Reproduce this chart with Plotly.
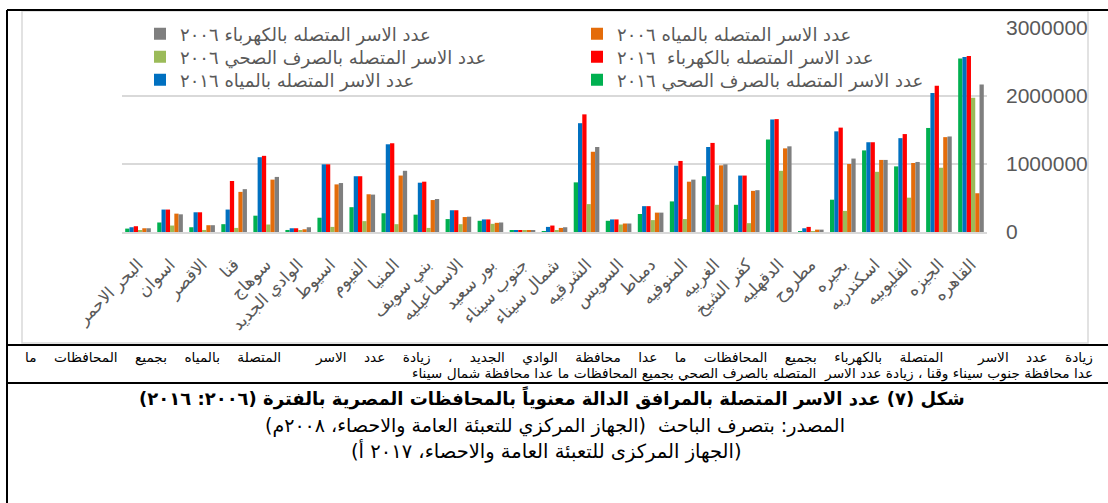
import plotly.graph_objects as go

governorates = [
    "البحر الاحمر", "اسوان", "الاقصر", "قنا", "سوهاج", "الوادي الجديد", "اسيوط",
    "الفيوم", "المنيا", "بني سويف", "الاسماعيليه", "بور سعيد", "جنوب سيناء",
    "شمال سيناء", "الشرقيه", "السويس", "دمياط", "المنوفيه", "الغربيه",
    "كفر الشيخ", "الدقهليه", "مطروح", "بحيره", "اسكندريه", "القليوبيه",
    "الجيزه", "القاهره",
]

sewer_2016 = [50000, 140000, 70000, 115000, 240000, 30000, 210000, 365000, 275000,
              255000, 190000, 165000, 15000, 10000, 730000, 165000, 265000, 450000,
              820000, 400000, 1360000, 10000, 475000, 1200000, 965000, 1530000, 2550000]
water_2016 = [70000, 330000, 290000, 330000, 1100000, 55000, 995000, 820000, 1290000,
              725000, 320000, 185000, 18000, 75000, 1600000, 185000, 380000, 975000,
              1250000, 830000, 1655000, 55000, 1480000, 1320000, 1380000, 2045000, 2575000]
elec_2016 = [85000, 330000, 290000, 750000, 1120000, 55000, 995000, 820000, 1305000,
             740000, 320000, 185000, 18000, 95000, 1730000, 185000, 380000, 1045000,
             1310000, 830000, 1660000, 75000, 1535000, 1320000, 1440000, 2150000, 2590000]
sewer_2006 = [15000, 95000, 30000, 60000, 110000, 20000, 75000, 160000, 115000,
              60000, 115000, 120000, 15000, 25000, 410000, 110000, 175000, 190000,
              400000, 130000, 900000, 3000, 310000, 885000, 505000, 945000, 1975000]
water_2006 = [55000, 270000, 100000, 590000, 770000, 40000, 700000, 555000, 830000,
              470000, 220000, 135000, 15000, 60000, 1180000, 125000, 285000, 740000,
              980000, 605000, 1230000, 35000, 1000000, 1060000, 1015000, 1395000, 570000]
elec_2006 = [55000, 260000, 100000, 630000, 810000, 70000, 720000, 550000, 900000,
             485000, 225000, 140000, 15000, 70000, 1250000, 125000, 285000, 770000,
             995000, 615000, 1260000, 35000, 1080000, 1060000, 1030000, 1405000, 2170000]

series_names = [
    "عدد الاسر المتصله بالصرف الصحي ٢٠١٦",
    "عدد الاسر المتصله بالمياه ٢٠١٦",
    "عدد الاسر المتصله بالكهرباء  ٢٠١٦",
    "عدد الاسر المتصله بالصرف الصحي ٢٠٠٦",
    "عدد الاسر المتصله بالمياه ٢٠٠٦",
    "عدد الاسر المتصله بالكهرباء ٢٠٠٦",
]
series_values = [sewer_2016, water_2016, elec_2016, sewer_2006, water_2006, elec_2006]
series_colors = ["#00B050", "#0070C0", "#FF0000", "#9BBB59", "#E46C0A", "#7F7F7F"]

y_ticks = [0, 1000000, 2000000, 3000000]

note_line1 = "زيادة عدد الاسر  المتصلة بالكهرباء بجميع المحافظات ما عدا محافظة الوادي الجديد ، زيادة عدد الاسر  المتصلة بالمياه بجميع المحافظات ما"
note_line2 = "عدا محافظة جنوب سيناء وقنا ، زيادة عدد الاسر  المتصله بالصرف الصحي بجميع المحافظات ما عدا محافظة شمال سيناء"
title_text = "شكل (٧) عدد الاسر المتصلة بالمرافق الدالة معنوياً بالمحافظات المصرية بالفترة (٢٠٠٦: ٢٠١٦)"
source1 = "المصدر: بتصرف الباحث  (الجهاز المركزي للتعبئة العامة والاحصاء، ٢٠٠٨م)"
source2 = "(الجهاز المركزى للتعبئة العامة والاحصاء، ٢٠١٧ أ)"

W, H = 1108, 503
ML, MR, MT, MB = 122, 121, 28, 271
PW = W - ML - MR
PH = H - MT - MB


def px_x(px):
    return (px - ML) / PW


def px_y(py):
    return (MT + PH - py) / PH


RLM = "\u200f"
AR_FONT = "DejaVu Sans"


def rtl(s):
    return RLM + s + RLM


def justified(s, pad):
    # widen word gaps to imitate a justified first line of the paragraph
    return s.replace(" ", " " + "\u00a0" * pad)


# legend placement (marker centre x, row centre y) in pixels
legend_pos = [(601, 80), (164, 80), (601, 57), (164, 57), (601, 34), (164, 34)]

fig = go.Figure()
for i, (name, vals, col) in enumerate(zip(series_names, series_values, series_colors)):
    lg = "legend" if i == 0 else f"legend{i + 1}"
    fig.add_trace(go.Bar(
        x=governorates, y=vals, name=name, marker_color=col,
        marker_line_width=0, legend=lg,
    ))

legends = {}
for i, (mx, my) in enumerate(legend_pos):
    key = "legend" if i == 0 else f"legend{i + 1}"
    legends[key] = dict(
        x=px_x(mx - 24), y=px_y(my), xanchor="left", yanchor="middle",
        bgcolor="rgba(0,0,0,0)", font=dict(family=AR_FONT, size=18, color="#595959"),
        itemwidth=30,
    )

shapes = [
    dict(type="rect", xref="paper", yref="paper", x0=px_x(22), x1=px_x(1088),
         y0=px_y(11), y1=px_y(343), line=dict(color="#D9D9D9", width=1.5), layer="below"),
    dict(type="line", xref="paper", yref="paper", x0=px_x(7), x1=px_x(1108),
         y0=px_y(10), y1=px_y(10), line=dict(color="black", width=2)),
    dict(type="line", xref="paper", yref="paper", x0=px_x(7), x1=px_x(7),
         y0=px_y(10), y1=px_y(503), line=dict(color="black", width=2)),
    dict(type="line", xref="paper", yref="paper", x0=px_x(7), x1=px_x(1108),
         y0=px_y(345), y1=px_y(345), line=dict(color="black", width=2)),
    dict(type="line", xref="paper", yref="paper", x0=px_x(7), x1=px_x(1108),
         y0=px_y(383), y1=px_y(383), line=dict(color="black", width=2)),
]

annotations = [
    dict(text=rtl(justified(note_line1, 3)), x=px_x(1095), y=px_y(357), xref="paper",
         yref="paper", xanchor="right", yanchor="middle", showarrow=False,
         font=dict(family=AR_FONT, size=13.7, color="black")),
    dict(text=rtl(note_line2), x=px_x(1095), y=px_y(373), xref="paper", yref="paper",
         xanchor="right", yanchor="middle", showarrow=False,
         font=dict(family=AR_FONT, size=13.7, color="black")),
    dict(text="<b>" + rtl(title_text) + "</b>", x=px_x(552), y=px_y(398), xref="paper",
         yref="paper", xanchor="center", yanchor="middle", showarrow=False,
         font=dict(family=AR_FONT, size=18, color="black")),
    dict(text=rtl(source1), x=px_x(555), y=px_y(425), xref="paper", yref="paper",
         xanchor="center", yanchor="middle", showarrow=False,
         font=dict(family=AR_FONT, size=19, color="black")),
    dict(text=rtl(source2), x=px_x(546), y=px_y(451), xref="paper", yref="paper",
         xanchor="center", yanchor="middle", showarrow=False,
         font=dict(family=AR_FONT, size=19.5, color="black")),
]

fig.update_layout(
    width=W, height=H,
    margin=dict(l=ML, r=MR, t=MT, b=MB),
    paper_bgcolor="white", plot_bgcolor="white",
    barmode="group", bargap=0.2, bargroupgap=0,
    showlegend=True,
    shapes=shapes, annotations=annotations,
    **legends,
)
fig.update_xaxes(
    tickangle=-45, tickfont=dict(family="Liberation Sans, " + AR_FONT, size=17, color="#595959"),
    showline=True, linecolor="#D9D9D9", linewidth=2, ticks="", showgrid=False,
    ticklabelstandoff=14,
)
fig.update_yaxes(
    side="right", range=[0, 3000000], tickvals=y_ticks, tickformat="d",
    tickfont=dict(family="Liberation Sans", size=21, color="#595959"),
    showgrid=True, gridcolor="#D9D9D9", gridwidth=1.5, zeroline=False,
    ticklabelstandoff=18, showline=False,
)

fig.write_html("out.html")
